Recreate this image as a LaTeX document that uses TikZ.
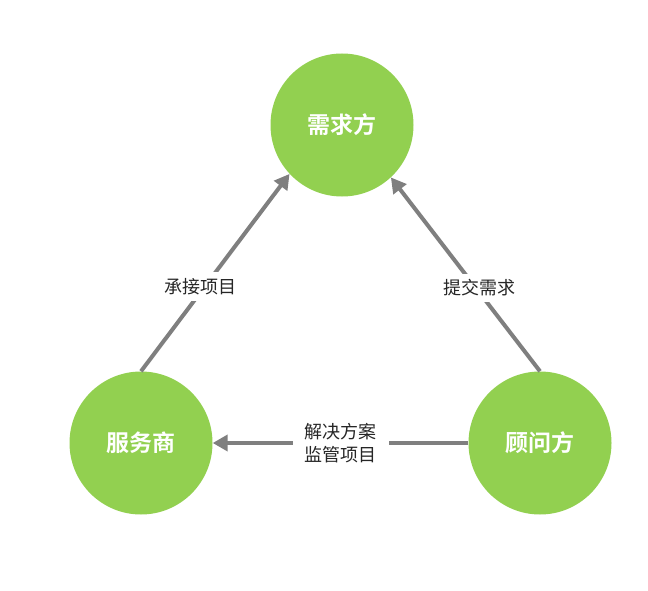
\documentclass[tikz,border=0pt]{standalone}
\usepackage{fontspec}
\newfontfamily\cjk{Noto Sans CJK SC}
\newfontfamily\cjkbold{Noto Sans CJK SC Bold}
\usetikzlibrary{arrows.meta}
\definecolor{leaf}{HTML}{92D050}
\definecolor{linegray}{HTML}{7F7F7F}
\definecolor{txtgray}{HTML}{262626}
\tikzset{
  party/.style={circle, fill=leaf, minimum size=143pt, inner sep=0pt,
    text=white, font=\cjkbold\fontsize{23pt}{26pt}\selectfont},
  link/.style={draw=linegray, line width=4pt,
    -{Triangle[length=15pt,width=16pt]}},
  tag/.style={fill=white, text=txtgray, inner sep=6pt,
    font=\cjk\fontsize{18pt}{23pt}\selectfont, align=center}
}
\begin{document}
\begin{tikzpicture}[x=1pt,y=-1pt]
\useasboundingbox (0,0) rectangle (648,591);
\node[party] (T) at (342,125) {需求方};
\node[party] (L) at (141,443) {服务商};
\node[party] (R) at (540,443) {顾问方};
\draw[link] (L.north) -- node[tag, pos=0.43, xshift=-4pt] (a) {承接项目} (T.223);
\draw[link] (R.north) -- node[tag, pos=0.43, xshift=4pt] (b) {提交需求} (T.313);
\draw[link] (R.west) -- node[tag, inner xsep=12pt] (c) {解决方案\\监管项目} (L.east);
\end{tikzpicture}
\end{document}
